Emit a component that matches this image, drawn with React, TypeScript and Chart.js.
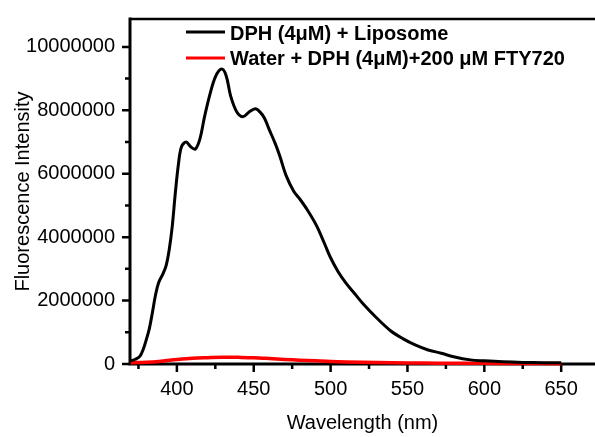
import React, { useEffect, useRef } from "react";
import { Chart, registerables } from "chart.js";

Chart.register(...registerables);

// ---- data ----
const wavelengthLiposome = [
  370, 373, 376, 378, 380, 382, 384, 386, 388, 391, 393, 395, 397, 399, 401, 403, 406, 409, 412, 415,
  418, 421.5, 425, 429, 432, 435, 439, 443, 447, 451, 454, 457, 460, 464, 467, 471, 476, 480, 485, 491,
  496, 500, 505, 510, 516, 522, 530, 539, 547, 555, 563, 572, 580, 591, 600, 612, 625, 638, 650,
];
const intensityLiposome = [
  100000, 150000, 250000, 450000, 750000, 1100000, 1600000, 2150000, 2550000, 2850000, 3100000, 3600000,
  4350000, 5400000, 6300000, 6850000, 7000000, 6850000, 6780000, 7100000, 7800000, 8500000, 9050000,
  9300000, 9100000, 8450000, 7950000, 7800000, 7950000, 8050000, 7950000, 7750000, 7400000, 6950000,
  6550000, 5950000, 5450000, 5200000, 4850000, 4350000, 3800000, 3350000, 2900000, 2550000, 2200000,
  1850000, 1450000, 1050000, 800000, 600000, 450000, 340000, 230000, 130000, 100000, 70000, 50000,
  40000, 40000,
];
const wavelengthWater = [
  370, 380, 390, 400, 410, 420, 430, 440, 450, 460, 470, 480, 490, 500, 520, 540, 560, 580, 600, 625, 650,
];
const intensityWater = [
  40000, 55000, 90000, 140000, 180000, 200000, 215000, 210000, 200000, 175000, 145000, 120000, 100000,
  80000, 55000, 40000, 30000, 25000, 20000, 15000, 10000,
];
const seriesLabels = ["DPH (4\u03bcM) + Liposome", "Water + DPH (4\u03bcM)+200 \u03bcM FTY720"];
const seriesColors = ["#000000", "#ff0000"];
const xMajorTicks = [400, 450, 500, 550, 600, 650];
const xMinorTicks = [375, 425, 475, 525, 575, 625];
const yMajorTicks = [0, 2000000, 4000000, 6000000, 8000000, 10000000];
const yMinorTicks = [1000000, 3000000, 5000000, 7000000, 9000000];
const xTitle = "Wavelength (nm)";
const yTitle = "Fluorescence Intensity";

const FONT = '"Liberation Sans", Arial, sans-serif';

const framePlugin = {
  id: "frame",
  beforeDatasetsDraw(chart: any) {
    const { ctx, chartArea, scales } = chart;
    const { left, right, top, bottom } = chartArea;
    const x = scales.x;
    const y = scales.y;
    ctx.save();
    ctx.strokeStyle = "#000";
    ctx.lineCap = "butt";
    ctx.lineWidth = 3;
    ctx.beginPath();
    ctx.moveTo(left, top - 1.5);
    ctx.lineTo(left, bottom + 1.5);
    ctx.moveTo(left - 1.5, bottom);
    ctx.lineTo(right, bottom);
    ctx.stroke();
    ctx.lineWidth = 2.5;
    ctx.beginPath();
    ctx.moveTo(left, top);
    ctx.lineTo(right, top);
    ctx.stroke();
    ctx.lineWidth = 2.5;
    ctx.beginPath();
    xMajorTicks.forEach((v) => {
      const px = x.getPixelForValue(v);
      ctx.moveTo(px, bottom);
      ctx.lineTo(px, bottom + 8);
    });
    xMinorTicks.forEach((v) => {
      const px = x.getPixelForValue(v);
      ctx.moveTo(px, bottom);
      ctx.lineTo(px, bottom + 5);
    });
    yMajorTicks.forEach((v) => {
      const py = y.getPixelForValue(v);
      ctx.moveTo(left, py);
      ctx.lineTo(left - 8, py);
    });
    yMinorTicks.forEach((v) => {
      const py = y.getPixelForValue(v);
      ctx.moveTo(left, py);
      ctx.lineTo(left - 5, py);
    });
    ctx.stroke();
    ctx.restore();
  },
};

const legendPlugin = {
  id: "insideLegend",
  afterDraw(chart: any) {
    const { ctx } = chart;
    const rows = [
      { lineY: 32, textY: 39.5 },
      { lineY: 58, textY: 64.5 },
    ];
    ctx.save();
    chart.data.datasets.forEach((ds: any, i: number) => {
      const r = rows[i];
      ctx.strokeStyle = ds.borderColor;
      ctx.lineWidth = 3;
      ctx.beginPath();
      ctx.moveTo(186, r.lineY);
      ctx.lineTo(225, r.lineY);
      ctx.stroke();
      ctx.fillStyle = "#000";
      ctx.font = `bold 20px ${FONT}`;
      ctx.textBaseline = "alphabetic";
      ctx.textAlign = "left";
      ctx.fillText(ds.label, 230, r.textY);
    });
    ctx.restore();
  },
};

export default function App() {
  const canvasRef = useRef<HTMLCanvasElement | null>(null);

  useEffect(() => {
    const canvas = canvasRef.current;
    if (!canvas) return;
    const chart = new Chart(canvas, {
      type: "line",
      data: {
        datasets: [
          {
            label: seriesLabels[0],
            data: wavelengthLiposome.map((w, i) => ({ x: w, y: intensityLiposome[i] })),
            borderColor: seriesColors[0],
            borderWidth: 3,
            pointRadius: 0,
            tension: 0.35,
            fill: false,
            clip: false as any,
          },
          {
            label: seriesLabels[1],
            data: wavelengthWater.map((w, i) => ({ x: w, y: intensityWater[i] })),
            borderColor: seriesColors[1],
            borderWidth: 3.5,
            pointRadius: 0,
            tension: 0.35,
            fill: false,
            clip: false as any,
          },
        ],
      },
      options: {
        animation: false,
        responsive: false,
        devicePixelRatio: 1,
        layout: { padding: { top: 17, right: 0, left: 0, bottom: 0 } },
        plugins: {
          legend: { display: false },
          tooltip: { enabled: false },
        },
        scales: {
          x: {
            type: "linear",
            min: 369.5,
            max: 672,
            afterBuildTicks: (s: any) => {
              s.ticks = xMajorTicks.map((v) => ({ value: v }));
            },
            afterFit: (s: any) => {
              s.height = 73;
            },
            grid: {
              display: true,
              drawOnChartArea: false,
              drawTicks: true,
              tickLength: 8,
              color: "rgba(0,0,0,0)",
            },
            border: { display: false },
            ticks: {
              color: "#000",
              font: { family: FONT, size: 20 },
              padding: 5,
              maxRotation: 0,
              autoSkip: false,
              callback: (v: any) => String(v),
            },
            title: {
              display: true,
              text: xTitle,
              color: "#000",
              font: { family: FONT, size: 20 },
              padding: { top: 0, bottom: 2 },
            },
          },
          y: {
            type: "linear",
            min: 0,
            max: 10880000,
            afterBuildTicks: (s: any) => {
              s.ticks = yMajorTicks.map((v) => ({ value: v }));
            },
            afterFit: (s: any) => {
              s.width = 130;
            },
            grid: {
              display: true,
              drawOnChartArea: false,
              drawTicks: true,
              tickLength: 8,
              color: "rgba(0,0,0,0)",
            },
            border: { display: false },
            ticks: {
              color: "#000",
              font: { family: FONT, size: 20 },
              padding: 7,
              autoSkip: false,
              callback: (v: any) => String(v),
            },
            title: {
              display: true,
              text: yTitle,
              color: "#000",
              font: { family: FONT, size: 20 },
              padding: { top: 11, bottom: 0 },
            },
          },
        },
      },
      plugins: [framePlugin, legendPlugin],
    } as any);
    return () => chart.destroy();
  }, []);

  return (
    <div style={{ position: "absolute", left: 0, top: 0, width: 595, height: 437, background: "#fff" }}>
      <canvas ref={canvasRef} width={595} height={437} style={{ display: "block", width: 595, height: 437 }} />
    </div>
  );
}
